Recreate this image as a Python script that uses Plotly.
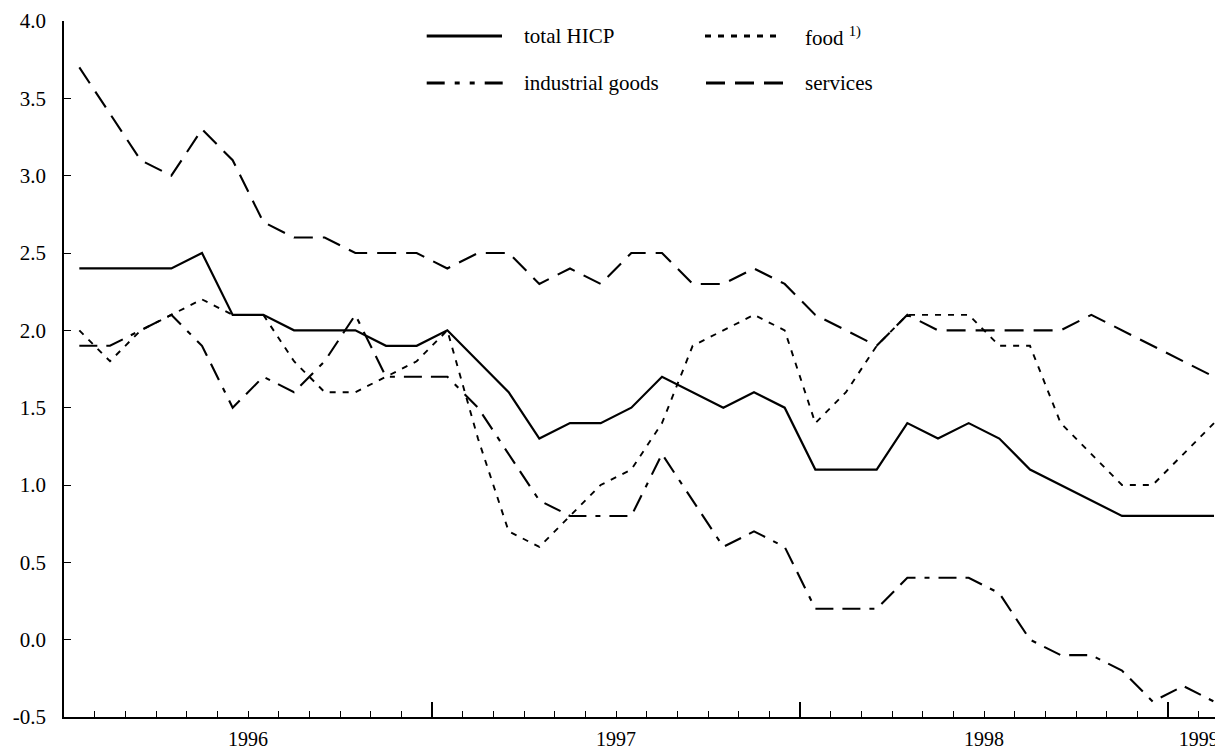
import plotly.graph_objects as go
import pandas as pd

# Monthly observations, Jan 1996 - Feb 1999
months = [str(p) for p in pd.period_range("1996-01", "1999-02", freq="M")]

total_hicp = [2.4, 2.4, 2.4, 2.4, 2.5, 2.1, 2.1, 2.0, 2.0, 2.0, 1.9, 1.9,
              2.0, 1.8, 1.6, 1.3, 1.4, 1.4, 1.5, 1.7, 1.6, 1.5, 1.6, 1.5,
              1.1, 1.1, 1.1, 1.4, 1.3, 1.4, 1.3, 1.1, 1.0, 0.9, 0.8, 0.8,
              0.8, 0.8]
food = [2.0, 1.8, 2.0, 2.1, 2.2, 2.1, 2.1, 1.8, 1.6, 1.6, 1.7, 1.8,
        2.0, 1.3, 0.7, 0.6, 0.8, 1.0, 1.1, 1.4, 1.9, 2.0, 2.1, 2.0,
        1.4, 1.6, 1.9, 2.1, 2.1, 2.1, 1.9, 1.9, 1.4, 1.2, 1.0, 1.0,
        1.2, 1.4]
industrial_goods = [1.9, 1.9, 2.0, 2.1, 1.9, 1.5, 1.7, 1.6, 1.8, 2.1, 1.7, 1.7,
                    1.7, 1.5, 1.2, 0.9, 0.8, 0.8, 0.8, 1.2, 0.9, 0.6, 0.7, 0.6,
                    0.2, 0.2, 0.2, 0.4, 0.4, 0.4, 0.3, 0.0, -0.1, -0.1, -0.2, -0.4,
                    -0.3, -0.4]
services = [3.7, 3.4, 3.1, 3.0, 3.3, 3.1, 2.7, 2.6, 2.6, 2.5, 2.5, 2.5,
            2.4, 2.5, 2.5, 2.3, 2.4, 2.3, 2.5, 2.5, 2.3, 2.3, 2.4, 2.3,
            2.1, 2.0, 1.9, 2.1, 2.0, 2.0, 2.0, 2.0, 2.0, 2.1, 2.0, 1.9,
            1.8, 1.7]

year_labels = ["1996", "1997", "1998", "1999"]
y_ticks = [-0.5, 0.0, 0.5, 1.0, 1.5, 2.0, 2.5, 3.0, 3.5, 4.0]
y_tick_labels = ["-0.5", "0.0", "0.5", "1.0", "1.5", "2.0", "2.5", "3.0", "3.5", "4.0"]

# month position: centre of each monthly slot
xpos = [i + 0.5 for i in range(len(months))]
# year label positions: middle of months present in each year
year_pos = []
for y in year_labels:
    idx = [i for i, m in enumerate(months) if m.startswith(y)]
    year_pos.append((idx[0] + idx[-1] + 1) / 2)
year_bounds = [i for i, m in enumerate(months) if m.endswith("-01") and i > 0]

FONT = "Liberation Serif"
BLACK = "#000000"

DASH_FOOD = "6px,7px"
DASH_IND_LEG = "18px,10px,5px,10px,5px,10px"
DASH_IND = "18px,9px,18px,9px,5px,9px"
DASH_SERV = "19px,10px"

series = [
    ("total HICP", total_hicp, "solid", 2.2),
    ("food", food, DASH_FOOD, 1.9),
    ("industrial goods", industrial_goods, DASH_IND, 2.1),
    ("services", services, DASH_SERV, 2.1),
]

fig = go.Figure()
for name, vals, dash, w in series:
    fig.add_trace(go.Scatter(
        x=xpos, y=vals, mode="lines", name=name,
        line=dict(color=BLACK, width=w, dash=dash),
        showlegend=False, hoverinfo="skip"))

# invisible trace to activate the label axis
fig.add_trace(go.Scatter(x=[year_pos[0]], y=[None], xaxis="x2",
                         showlegend=False, hoverinfo="skip"))

# page body adds an 8px offset; size the figure to fit the window
OFF = 8
W, H = 1223 - OFF, 749 - OFF
ML, MR, MT, MB = 64 - OFF, 0, 21 - OFF, 32
x_max = (W - ML - MR) / (368 / 12)

fig.update_layout(
    width=W, height=H,
    margin=dict(l=ML, r=MR, t=MT, b=MB, autoexpand=False),
    paper_bgcolor="white", plot_bgcolor="white",
    font=dict(family=FONT, size=20, color=BLACK),
    xaxis=dict(
        range=[0, x_max], showgrid=False, zeroline=False,
        showline=True, linecolor=BLACK, linewidth=1.5,
        tickmode="array", tickvals=year_bounds, showticklabels=False,
        ticks="inside", ticklen=15, tickwidth=1.5, tickcolor=BLACK,
        minor=dict(dtick=1, tick0=0, ticks="inside", ticklen=6,
                   tickwidth=1, tickcolor=BLACK, showgrid=False),
    ),
    xaxis2=dict(
        range=[0, x_max], overlaying="x", side="bottom",
        showgrid=False, zeroline=False, showline=False,
        tickmode="array", tickvals=year_pos, ticktext=year_labels,
        ticks="", ticklabelstandoff=8,
        tickfont=dict(family=FONT, size=20, color=BLACK),
    ),
    yaxis=dict(
        range=[-0.5, 4.0], showgrid=False, zeroline=False,
        showline=True, linecolor=BLACK, linewidth=1.5,
        tickmode="array", tickvals=y_ticks, ticktext=y_tick_labels,
        ticks="inside", ticklen=7, tickwidth=1, tickcolor=BLACK,
        ticklabelstandoff=12,
        tickfont=dict(family=FONT, size=21, color=BLACK),
    ),
)

# Custom legend (paper coordinates; positions given in window pixels)
pw = W - ML - MR
ph = H - MT - MB
def px(xp):
    return (xp - OFF - ML) / pw
def py(yp):
    return (H - MB - (yp - OFF)) / ph

legend_items = [
    ("total HICP", "solid", 426.7, 502, 36),
    ("food <sup>1)</sup>", DASH_FOOD, 705, 777, 36),
    ("industrial goods", DASH_IND_LEG, 426.7, 505, 83),
    ("services", DASH_SERV, 706, 784, 83),
]
for label, dash, x0, x1, yy in legend_items:
    fig.add_shape(type="line", xref="paper", yref="paper",
                  x0=px(x0), x1=px(x1), y0=py(yy), y1=py(yy),
                  line=dict(color=BLACK, width=2.8, dash=dash))
    tx = 522 if x0 < 600 else 803
    fig.add_annotation(xref="paper", yref="paper", x=px(tx), y=py(yy),
                       text=label, showarrow=False, xanchor="left", yanchor="middle",
                       font=dict(family=FONT, size=21, color=BLACK))

fig.write_html("out.html")
